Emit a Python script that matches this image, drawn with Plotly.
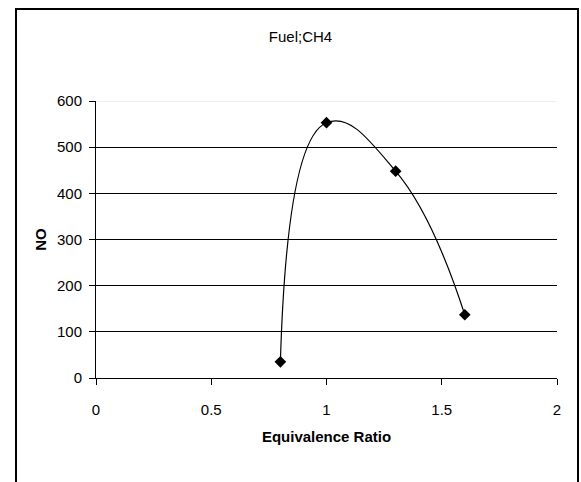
import plotly.graph_objects as go

equivalence_ratio = [0.8, 1.0, 1.3, 1.6]
no_values = [35, 553, 448, 137]
x_ticks = [0, 0.5, 1, 1.5, 2]
y_ticks = [0, 100, 200, 300, 400, 500, 600]

FONT = "Liberation Sans, Arial, sans-serif"

fig = go.Figure()
fig.add_trace(go.Scatter(
    x=equivalence_ratio, y=no_values, mode="lines+markers",
    line=dict(color="black", width=1.2, shape="spline", smoothing=1.3),
    marker=dict(symbol="diamond", size=9, color="black"),
    showlegend=False,
))

W, H = 581, 482
L, R, T, B = 96, 24, 101, 104
pw, ph = W - L - R, H - T - B

def px(x):
    return (x - L) / pw

def py(y):
    return (H - B - y) / ph

fig.update_layout(
    width=W, height=H,
    margin=dict(l=L, r=R, t=T, b=B),
    paper_bgcolor="white", plot_bgcolor="white",
    font=dict(family=FONT, size=15, color="black"),
    title=dict(text="Fuel;CH4", xref="container", x=300.5 / W, xanchor="center",
               yref="container", y=1 - 37 / H, yanchor="middle",
               font=dict(family=FONT, size=15, color="black")),
    xaxis=dict(range=[0, 2], tickvals=x_ticks, ticktext=[str(v) for v in x_ticks],
               showgrid=False, zeroline=False, showline=True, linecolor="black", linewidth=1,
               ticks="outside", ticklen=6, tickcolor="black", tickwidth=1,
               ticklabelstandoff=12,
               title=dict(text="<b>Equivalence Ratio</b>", standoff=14,
                          font=dict(family=FONT, size=15))),
    yaxis=dict(range=[0, 600], tickvals=y_ticks, showgrid=True, gridcolor="black", gridwidth=1,
               zeroline=False, showline=True, linecolor="black", linewidth=1,
               ticks="outside", ticklen=6, tickcolor="black", tickwidth=1,
               ticklabelstandoff=4,
               title=dict(text="<b>NO</b>", standoff=6, font=dict(family=FONT, size=15))),
    shapes=[
        dict(type="line", xref="paper", yref="y", x0=0, x1=1, y0=600, y1=600,
             line=dict(color="#dddddd", width=1), layer="above"),
        dict(type="rect", xref="paper", yref="paper", x0=px(16), x1=px(578), y0=py(9), y1=py(492),
             line=dict(color="black", width=2), fillcolor="rgba(0,0,0,0)", layer="above"),
    ],
)

fig.write_html("out.html")
